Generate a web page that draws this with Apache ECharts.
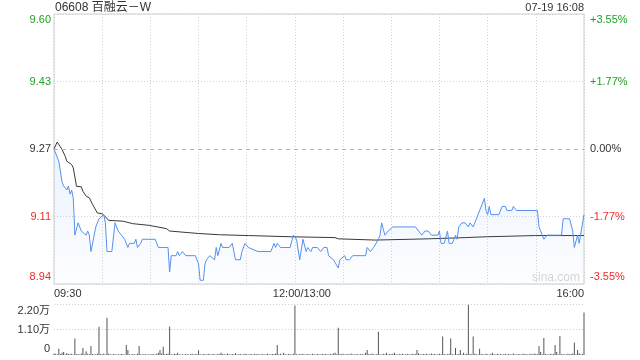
<!DOCTYPE html>
<html>
<head>
<meta charset="utf-8">
<script src="https://cdn.jsdelivr.net/npm/echarts@6/dist/echarts.min.js"></script>
<style>
html,body{margin:0;padding:0;background:#fff;}
#c{width:640px;height:360px;}
</style>
</head>
<body>
<div id="c"></div>
<script>
// ---- data ----
const title = '06608 百融云－W';
const stamp = '07-19 16:08';
const prevClose = 9.27;

const priceMinutes = [0,3,5,6,8,9,10,11,12,13,14,15,16,17,18,20,21,22,23,24,25,26,27,28,29,31,32,33,36,38,40,42,44,46,47,50,51,52,54,55,63,65,68,71,72,73,76,77,78,80,82,88,90,91,93,94,95,97,100,101,102,104,105,109,111,113,116,117,119,121,127,135,137,138,139,141,147,149,151,153,155,156,157,158,160,161,164,166,168,170,171,174,177,178,181,182,184,186,194,195,197,199,200,202,203,204,205,206,208,211,225,227,229,231,233,235,239,240,241,243,245,246,248,250,251,252,254,256,258,259,261,262,264,265,268,269,270,271,272,277,279,281,282,285,286,288,301,302,304,305,307,316,317,321,323,324,325,326,327,328,330];
const prices = [9.27,9.24,9.19,9.18,9.17,9.18,9.16,9.17,9.15,9.06,9.06,9.09,9.09,9.07,9.07,9.06,9.07,9.06,9.02,9.02,9.06,9.08,9.09,9.10,9.10,9.11,9.09,9.02,9.02,9.09,9.07,9.06,9.05,9.03,9.04,9.04,9.05,9.03,9.04,9.05,9.05,9.03,9.03,9.03,8.97,9.01,9.01,9.02,9.01,9.02,9.01,9.01,8.99,8.95,8.95,8.99,9.00,9.01,9.00,9.03,9.01,9.04,9.03,9.03,9.04,9.00,9.00,9.02,9.04,9.03,9.02,9.02,9.04,9.03,9.04,9.03,9.03,9.06,9.05,9.00,9.05,9.05,9.02,9.03,9.02,9.03,9.03,9.02,9.03,9.03,9.01,9.00,8.98,9.00,9.01,9.00,9.00,9.01,9.01,9.03,9.02,9.03,9.03,9.05,9.06,9.09,9.09,9.06,9.07,9.08,9.08,9.07,9.06,9.07,9.07,9.06,9.06,9.07,9.04,9.04,9.07,9.04,9.04,9.06,9.05,9.08,9.09,9.09,9.08,9.09,9.08,9.09,9.11,9.11,9.15,9.12,9.11,9.13,9.11,9.11,9.13,9.13,9.12,9.12,9.13,9.12,9.12,9.08,9.06,9.05,9.06,9.06,9.10,9.10,9.07,9.03,9.03,9.06,9.04,9.04,9.11];

const avgMinutes = [0,2,5,7,8,11,12,14,17,18,20,22,24,27,30,32,34,43,49,59,70,72,90,103,121,148,175,177,200,233,256,269,300,330];
const avgPrices = [9.270,9.287,9.269,9.252,9.240,9.232,9.224,9.179,9.178,9.167,9.155,9.151,9.135,9.114,9.112,9.105,9.096,9.094,9.088,9.084,9.076,9.070,9.064,9.061,9.059,9.056,9.054,9.051,9.048,9.051,9.054,9.056,9.059,9.059];

const volumes = [
 600,500,300,2730,400,1000,1300,200,900,400,
 300,500,200,7070,300,400,200,600,3040,300,
 1600,500,300,3900,400,200,300,500,12150,400,
 300,600,200,16060,500,300,200,400,300,200,
 300,200,400,300,200,4340,2170,300,200,400,
 300,200,500,3900,300,200,400,300,200,300,
 200,400,300,200,500,1000,2170,700,3600,300,
 400,600,12280,300,200,500,400,1000,300,200,
 300,200,400,300,200,300,500,200,400,300,
 2000,300,200,400,300,200,500,300,200,400,
 300,200,500,300,1000,400,300,200,600,300,
 200,400,300,900,200,300,400,200,300,500,
 300,200,400,300,200,500,300,400,200,300,
 400,200,300,500,200,300,400,300,600,4340,
 300,500,200,1000,300,200,400,300,200,500,
 21300,300,200,400,300,500,200,300,400,300,
 200,500,300,200,400,300,200,500,300,400,
 300,200,400,300,600,1000,300,11720,400,300,
 500,200,300,400,200,600,300,200,400,300,
 200,400,300,200,1000,2170,400,300,600,300,
 200,400,9980,300,200,500,300,1000,200,400,
 300,500,1000,300,200,400,300,500,200,300,
 400,300,200,500,300,400,2170,800,300,200,
 400,300,500,200,300,700,300,400,200,300,
 500,300,7940,400,200,300,500,7070,300,200,
 3040,300,400,2170,200,1000,300,500,21700,400,
 300,7940,500,300,200,2730,400,300,200,500,
 300,200,400,1000,300,200,500,300,400,200,
 300,500,200,400,300,200,600,300,200,400,
 300,200,500,300,400,200,300,500,200,600,
 400,300,3900,1300,300,7380,400,300,200,500,
 300,400,4340,1300,200,8250,300,400,200,300,
 500,300,400,600,5340,300,2170,800,300,400,
 18360
];

const priceTickLabels = ['8.94','9.11','9.27','9.43','9.60'];
const pctTickLabels = ['-3.55%','-1.77%','0.00%','+1.77%','+3.55%'];
const volTickLabels = ['0','1.10万','2.20万'];
const timeTicks = [0,150,330];
const timeLabels = ['09:30','12:00/13:00','16:00'];

// ---- chart ----
const FONT = '"Liberation Sans", Arial, "Noto Sans CJK SC", sans-serif';
const GREEN = '#1fa31f', RED = '#ee2b2b', DARK = '#333';
const toPct = p => (p / prevClose - 1) * 100;

function yRich(align) {
  return {
    gt: {color: GREEN, fontSize: 11, fontFamily: FONT, padding: [12, 0, 0, 0]},
    g: {color: GREEN, fontSize: 11, fontFamily: FONT},
    d: {color: DARK, fontSize: 11, fontFamily: FONT},
    r: {color: RED, fontSize: 11, fontFamily: FONT},
    rb: {color: RED, fontSize: 11, fontFamily: FONT, padding: [0, 0, 14, 0]}
  };
}
function yFmt(labels) {
  return function (v) {
    const k = Math.round(v / 1.775) + 2;
    const s = labels[k];
    if (s === undefined) return '';
    const tag = ['rb', 'r', 'd', 'g', 'gt'][k];
    return '{' + tag + '|' + s + '}';
  };
}

const chart = echarts.init(document.getElementById('c'), null, {renderer: 'canvas'});
const option = {
  animation: false,
  textStyle: {fontFamily: FONT},
  grid: [
    {left: 54, top: 14, width: 530, height: 270, show: true, borderColor: '#cfcfcf', borderWidth: 1},
    {left: 54, top: 304, width: 530, height: 51, show: false}
  ],
  xAxis: [
    {
      type: 'value', gridIndex: 0, min: 0, max: 330, interval: 30,
      axisLine: {show: false}, axisTick: {show: false},
      splitLine: {show: true, lineStyle: {color: '#d2d2d2', type: [1, 2], width: 1}},
      axisLabel: {
        show: true, margin: 4, fontSize: 11, color: DARK, fontFamily: FONT,
        showMinLabel: true, showMaxLabel: true,
        alignMinLabel: 'left', alignMaxLabel: 'right',
        formatter: function (v) {
          const k = timeTicks.indexOf(Math.round(v));
          if (k < 0) return '';
          if (k === 1) return '{mid|' + timeLabels[k] + '}';
          return timeLabels[k];
        },
        rich: {mid: {fontSize: 11, color: DARK, fontFamily: FONT, padding: [0, 0, 0, 14]}}
      }
    },
    {
      type: 'value', gridIndex: 1, min: 0, max: 330, interval: 30,
      axisLine: {show: false}, axisTick: {show: false}, axisLabel: {show: false},
      splitLine: {show: false}
    }
  ],
  yAxis: [
    {
      type: 'value', gridIndex: 0, position: 'left', min: -3.55, max: 3.55, interval: 1.775,
      axisLine: {show: false}, axisTick: {show: false},
      splitLine: {show: true, lineStyle: {color: ['#d2d2d2', '#d2d2d2', 'rgba(0,0,0,0)', '#d2d2d2', '#d2d2d2'], type: [1, 2]}},
      axisLabel: {margin: 3, formatter: yFmt(priceTickLabels), rich: yRich()}
    },
    {
      type: 'value', gridIndex: 0, position: 'right', min: -3.55, max: 3.55, interval: 1.775,
      axisLine: {show: false}, axisTick: {show: false}, splitLine: {show: false},
      axisLabel: {margin: 6, formatter: yFmt(pctTickLabels), rich: yRich()}
    },
    {
      type: 'value', gridIndex: 1, position: 'left', min: 0, max: 22000, interval: 11000,
      axisLine: {show: false}, axisTick: {show: false},
      splitLine: {show: true, lineStyle: {color: ['rgba(0,0,0,0)', '#cfcfcf', '#cfcfcf'], type: [1, 2]}},
      axisLabel: {
        margin: 4,
        formatter: function (v) {
          const k = Math.round(v / 11000);
          const s = volTickLabels[k];
          if (k === 0) return '{b|' + s + '}';
          if (k === 2) return '{t|' + s + '}';
          return '{m|' + s + '}';
        },
        rich: {
          t: {color: DARK, fontSize: 11, fontFamily: FONT, padding: [14, 0, 0, 0]},
          m: {color: DARK, fontSize: 11, fontFamily: FONT},
          b: {color: DARK, fontSize: 11, fontFamily: FONT, padding: [0, 0, 12, 0]}
        }
      }
    }
  ],
  series: [
    {
      name: 'avg', type: 'line', xAxisIndex: 0, yAxisIndex: 0,
      showSymbol: false, symbol: 'none', silent: true,
      lineStyle: {color: '#383838', width: 1},
      data: avgMinutes.map((t, i) => [t, toPct(avgPrices[i])]),
      z: 3
    },
    {
      name: 'price', type: 'line', xAxisIndex: 0, yAxisIndex: 0,
      showSymbol: false, symbol: 'none', silent: true,
      lineStyle: {color: '#5590ee', width: 1},
      areaStyle: {
        origin: 'start',
        color: new echarts.graphic.LinearGradient(0, 0, 0, 1, [
          {offset: 0, color: 'rgba(85,144,238,0.16)'},
          {offset: 1, color: 'rgba(85,144,238,0.02)'}
        ])
      },
      data: priceMinutes.map((t, i) => [t, toPct(prices[i])]),
      markLine: {
        symbol: 'none', silent: true, label: {show: false},
        lineStyle: {color: '#f3a06a', type: [4, 4], width: 1},
        data: [{yAxis: 0}]
      },
      z: 4
    },
    {
      name: 'vol', type: 'bar', xAxisIndex: 1, yAxisIndex: 2,
      barWidth: 1, silent: true,
      itemStyle: {color: '#555'},
      data: volumes.map((v, i) => [i, v])
    }
  ],
  graphic: [
    {type: 'text', left: 55, top: 2, style: {text: title, fontSize: 12, fill: '#333', fontFamily: FONT}},
    {type: 'text', right: 56, top: 2, style: {text: stamp, fontSize: 11, fill: '#333', fontFamily: FONT}},
    {type: 'text', left: 532, top: 272, style: {text: 'sina.com', fontSize: 12, fill: '#d6d6d6', fontFamily: FONT}}
  ]
};
chart.setOption(option);
</script>
</body>
</html>
